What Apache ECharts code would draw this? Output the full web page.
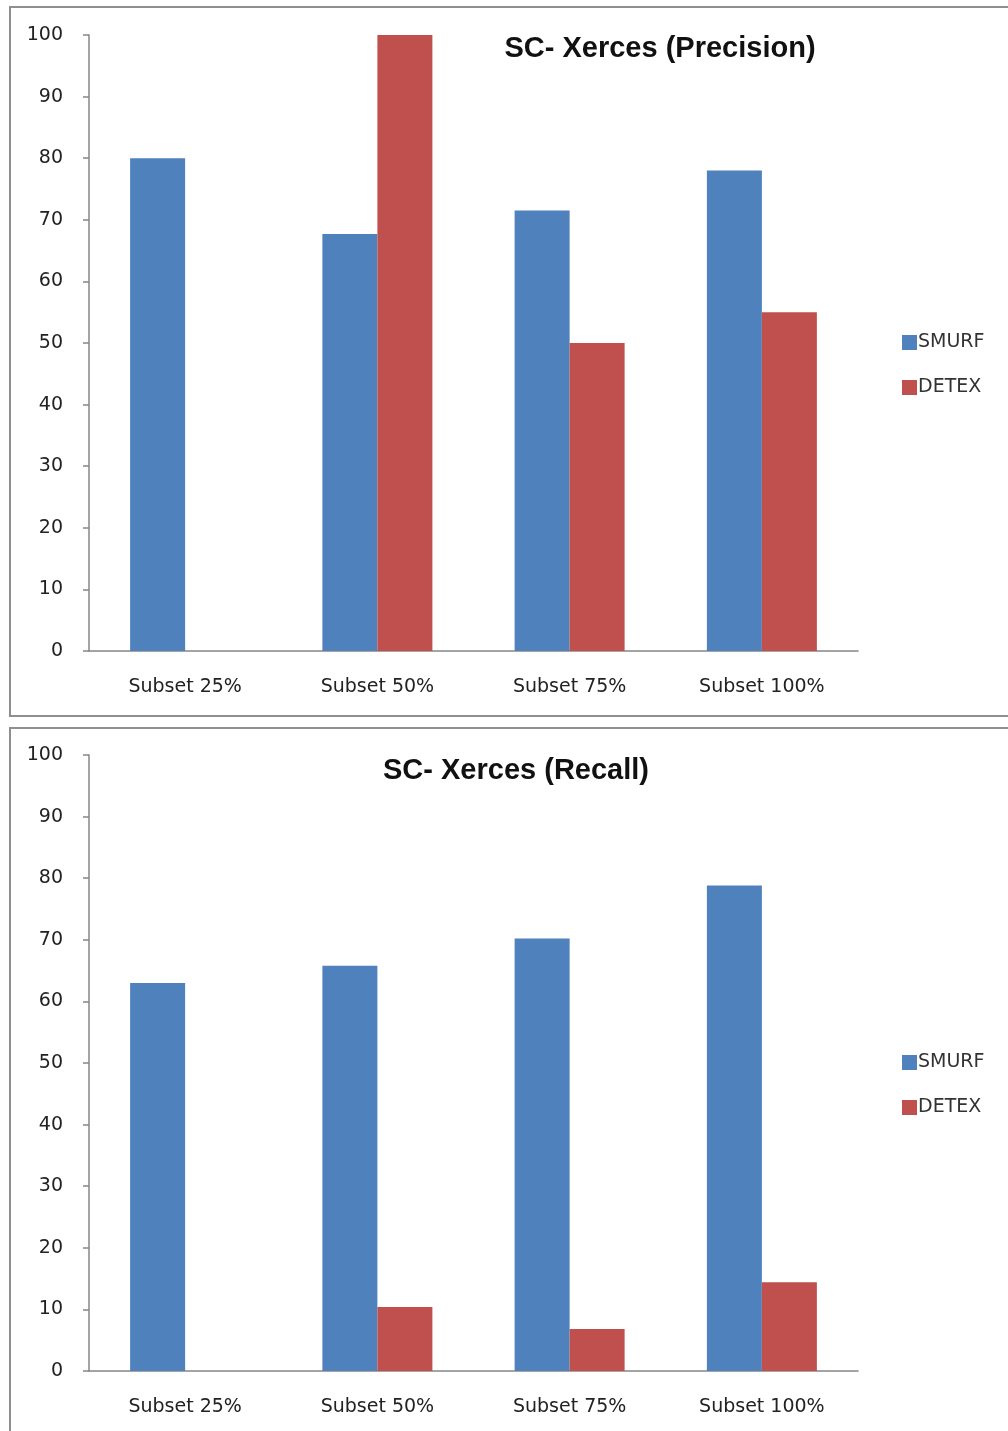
<!DOCTYPE html>
<html>
<head>
<meta charset="utf-8">
<title>SC- Xerces</title>
<script src="https://cdn.jsdelivr.net/npm/echarts@6/dist/echarts.min.js"></script>
<style>
  html, body { margin: 0; padding: 0; background: #fff; }
  #chart { width: 1008px; height: 1431px; }
</style>
</head>
<body>
<div id="chart"></div>
<script>
// categories and values
const categories = ["Subset 25%", "Subset 50%", "Subset 75%", "Subset 100%"];
const seriesNames = ["SMURF", "DETEX"];
const precisionSmurf = [80, 67.7, 71.5, 78];
const precisionDetex = [null, 100, 50, 55];
const recallSmurf = [63, 65.8, 70.2, 78.8];
const recallDetex = [null, 10.4, 6.8, 14.4];
const titles = ["SC- Xerces (Precision)", "SC- Xerces (Recall)"];

const blue = "#4F81BD";
const red = "#C0504D";
const axisGray = "#868686";
const font = "DejaVu Sans";
const titleFont = "Liberation Sans";

const chart = echarts.init(document.getElementById("chart"));

// same axis setup for both panels
function xAxisFor(i) {
  return {
    type: "category",
    gridIndex: i,
    data: categories,
    axisLine: { lineStyle: { color: axisGray, width: 1.5 } },
    axisTick: { length: 6, lineStyle: { color: axisGray, width: 1.5 } },
    axisLabel: { color: "#222", fontSize: 19, fontFamily: font, margin: 27 },
  };
}
function yAxisFor(i) {
  return {
    type: "value",
    gridIndex: i,
    min: 0,
    max: 100,
    interval: 10,
    splitLine: { show: false },
    axisLine: { show: true, lineStyle: { color: axisGray, width: 1.5 } },
    axisTick: { show: true, length: 6, lineStyle: { color: axisGray, width: 1.5 } },
    axisLabel: { color: "#222", fontSize: 19, fontFamily: font, margin: 26 },
  };
}
function barSeries(name, data, color, i) {
  return {
    name: name,
    type: "bar",
    xAxisIndex: i,
    yAxisIndex: i,
    data: data,
    barWidth: 55,
    barGap: "0%",
    itemStyle: { color: color },
    emphasis: { disabled: true },
  };
}
function legendAt(top) {
  return {
    data: seriesNames,
    orient: "vertical",
    left: 897,
    top: top,
    itemWidth: 15,
    itemHeight: 15,
    itemGap: 26,
    icon: "rect",
    textStyle: { fontFamily: font, fontSize: 19, color: "#333", padding: [0, 0, 0, -4] },
  };
}

const option = {
  animation: false,
  backgroundColor: "#fff",
  graphic: [
    {
      type: "rect",
      shape: { x: 10, y: 7, width: 1010, height: 709 },
      style: { fill: "none", stroke: "#8f8f8f", lineWidth: 2 },
      z: -1,
    },
    {
      type: "rect",
      shape: { x: 10, y: 728, width: 1010, height: 720 },
      style: { fill: "none", stroke: "#8f8f8f", lineWidth: 2 },
      z: -1,
    },
  ],
  title: [
    {
      text: titles[0],
      left: 655,
      top: 29,
      textAlign: "center",
      textStyle: { fontFamily: titleFont, fontSize: 29, fontWeight: "bold", color: "#111" },
    },
    {
      text: titles[1],
      left: 511,
      top: 751,
      textAlign: "center",
      textStyle: { fontFamily: titleFont, fontSize: 29, fontWeight: "bold", color: "#111" },
    },
  ],
  legend: [legendAt(328), legendAt(1048)],
  grid: [
    { left: 89, top: 35, width: 769, height: 616 },
    { left: 89, top: 755, width: 769, height: 616 },
  ],
  xAxis: [xAxisFor(0), xAxisFor(1)],
  yAxis: [yAxisFor(0), yAxisFor(1)],
  series: [
    barSeries(seriesNames[0], precisionSmurf, blue, 0),
    barSeries(seriesNames[1], precisionDetex, red, 0),
    barSeries(seriesNames[0], recallSmurf, blue, 1),
    barSeries(seriesNames[1], recallDetex, red, 1),
  ],
};

chart.setOption(option);
</script>
</body>
</html>
